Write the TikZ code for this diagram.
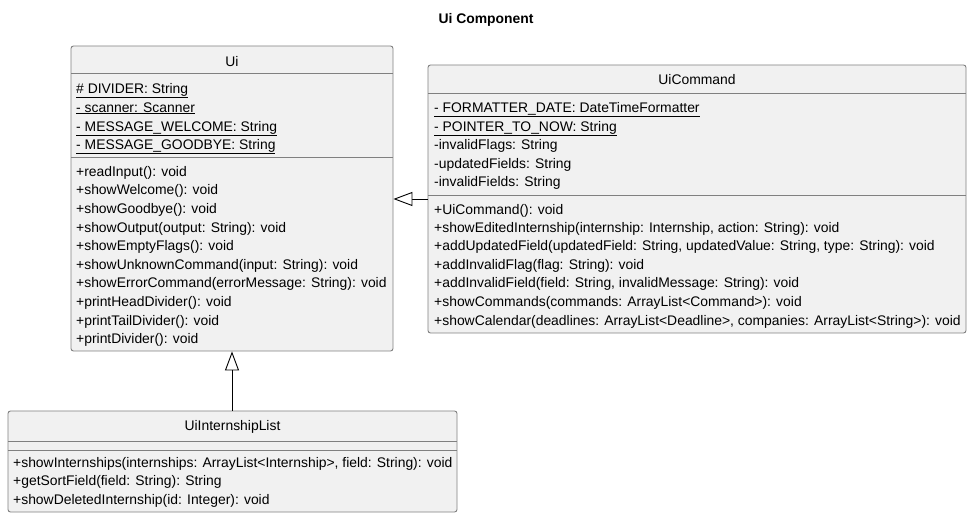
\documentclass[tikz,border=0pt]{standalone}
\usepackage{fontspec}
\setmainfont{Liberation Sans}
\usetikzlibrary{arrows.meta}
\definecolor{boxfill}{HTML}{F1F1F1}
\definecolor{boxline}{HTML}{808080}
\tikzset{
  umlbox/.style={draw=boxline, fill=boxfill, line width=0.9pt, rounded corners=2.5pt, inner sep=0pt},
  sepline/.style={draw=boxline, line width=0.9pt},
  member/.style={anchor=mid west, inner sep=0pt, yshift=-1.5pt, font=\fontsize{13.9}{16}\selectfont},
  cname/.style={anchor=mid, inner sep=0pt, yshift=-1.5pt, font=\fontsize{13.9}{16}\selectfont},
  inh/.style={draw=black, line width=0.9pt, -{Triangle[open, length=19pt, width=14pt, fill=white]}},
}
\begin{document}
\begin{tikzpicture}[x=1pt, y=-1pt]
\useasboundingbox (0,0) rectangle (972,518);
\node[anchor=mid, yshift=-1.5pt, font=\fontsize{13.9}{16}\selectfont\bfseries] (title) at (486,19) {Ui Component};

% Ui
\node[umlbox, minimum width=322pt, minimum height=305pt] (ui) at (232,198.5) {};
\draw[sepline] (71,73) -- (393,73);
\draw[sepline] (71,157) -- (393,157);
\node[cname] (uin) at (232,62) {Ui};
\node[member] (ua1) at (76,89) {\underline{\# DIVIDER: String}};
\node[member] (ua2) at (76,108) {\underline{- scanner: Scanner}};
\node[member] (ua3) at (76,127) {\underline{- MESSAGE\_WELCOME: String}};
\node[member] (ua4) at (76,145) {\underline{- MESSAGE\_GOODBYE: String}};
\node[member] (um1) at (76,172) {+readInput(): void};
\node[member] (um2) at (76,190) {+showWelcome(): void};
\node[member] (um3) at (76,209) {+showGoodbye(): void};
\node[member] (um4) at (76,228) {+showOutput(output: String): void};
\node[member] (um5) at (76,246) {+showEmptyFlags(): void};
\node[member] (um6) at (76,265) {+showUnknownCommand(input: String): void};
\node[member] (um7) at (76,283) {+showErrorCommand(errorMessage: String): void};
\node[member] (um8) at (76,302) {+printHeadDivider(): void};
\node[member] (um9) at (76,321) {+printTailDivider(): void};
\node[member] (um10) at (76,339) {+printDivider(): void};

% UiCommand
\node[umlbox, minimum width=538pt, minimum height=268pt] (uic) at (697,199) {};
\draw[sepline] (428,93) -- (966,93);
\draw[sepline] (428,195) -- (966,195);
\node[cname] (uicn) at (697,80) {UiCommand};
\node[member] (ca1) at (434,108) {\underline{- FORMATTER\_DATE: DateTimeFormatter}};
\node[member] (ca2) at (434,127) {\underline{- POINTER\_TO\_NOW: String}};
\node[member] (ca3) at (434,145) {-invalidFlags: String};
\node[member] (ca4) at (434,164) {-updatedFields: String};
\node[member] (ca5) at (434,182) {-invalidFields: String};
\node[member] (cm1) at (434,210) {+UiCommand(): void};
\node[member] (cm2) at (434,228) {+showEditedInternship(internship: Internship, action: String): void};
\node[member] (cm3) at (434,246) {+addUpdatedField(updatedField: String, updatedValue: String, type: String): void};
\node[member] (cm4) at (434,265) {+addInvalidFlag(flag: String): void};
\node[member] (cm5) at (434,283) {+addInvalidField(field: String, invalidMessage: String): void};
\node[member] (cm6) at (434,302) {+showCommands(commands: ArrayList<Command>): void};
\node[member] (cm7) at (434,321) {+showCalendar(deadlines: ArrayList<Deadline>, companies: ArrayList<String>): void};

% UiInternshipList
\node[umlbox, minimum width=449pt, minimum height=101pt] (uil) at (232.5,461.5) {};
\draw[sepline] (8,441) -- (457,441);
\draw[sepline] (8,450) -- (457,450);
\node[cname] (uiln) at (232.5,426) {UiInternshipList};
\node[member] (lm1) at (13,463) {+showInternships(internships: ArrayList<Internship>, field: String): void};
\node[member] (lm2) at (13,481) {+getSortField(field: String): String};
\node[member] (lm3) at (13,500) {+showDeletedInternship(id: Integer): void};

% inheritance
\draw[inh] (uic.west) -- (ui.east |- uic.west);
\draw[inh] (uil.north -| ui.south) -- (ui.south);
\end{tikzpicture}
\end{document}
